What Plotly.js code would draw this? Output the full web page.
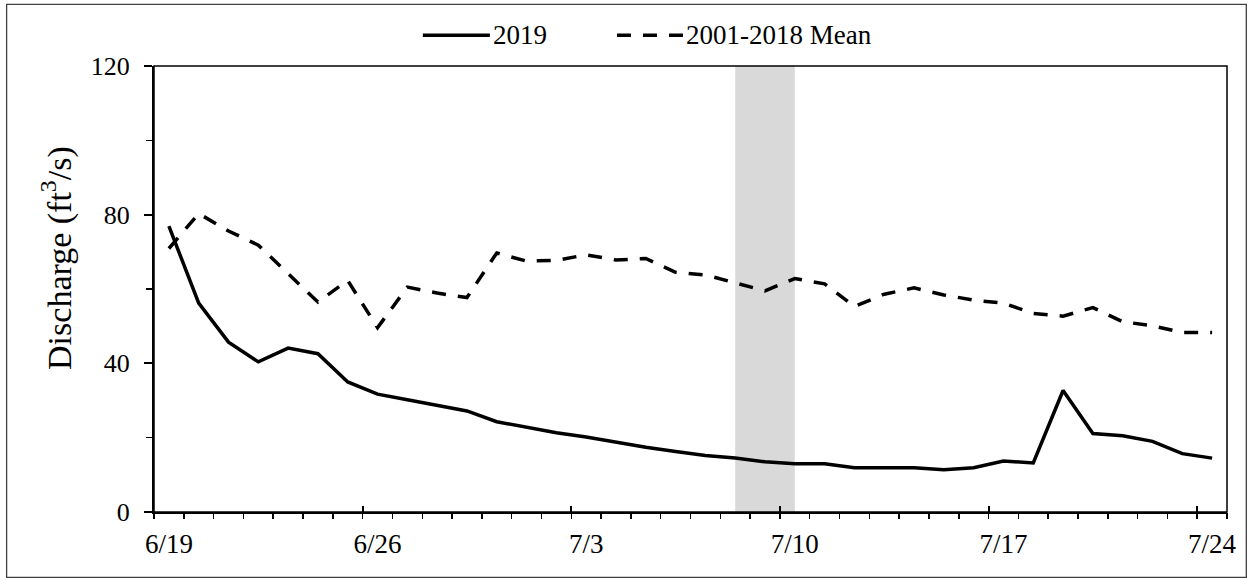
<!DOCTYPE html>
<html>
<head>
<meta charset="utf-8">
<script src="https://cdn.plot.ly/plotly-3.0.1.min.js"></script>
<style>
  html, body { margin: 0; padding: 0; background: #ffffff; }
  #chart { width: 1253px; height: 580px; }
</style>
</head>
<body>
<div id="chart"></div>
<script>
// ---- Data ----
const dates = ['6/19','6/20','6/21','6/22','6/23','6/24','6/25','6/26','6/27','6/28','6/29','6/30',
               '7/1','7/2','7/3','7/4','7/5','7/6','7/7','7/8','7/9','7/10','7/11','7/12',
               '7/13','7/14','7/15','7/16','7/17','7/18','7/19','7/20','7/21','7/22','7/23','7/24'];

const discharge2019 = [76.9, 56.2, 45.7, 40.4, 44.1, 42.6, 35.0, 31.7, 30.2, 28.7, 27.2, 24.3,
                       22.7, 21.3, 20.2, 18.7, 17.4, 16.3, 15.2, 14.5, 13.5, 13.0, 13.0, 11.9,
                       11.9, 11.9, 11.4, 11.9, 13.7, 13.2, 32.7, 21.1, 20.5, 19.0, 15.7, 14.5];

const dischargeMean = [70.9, 80.3, 75.6, 71.8, 64.1, 56.5, 62.3, 49.6, 60.5, 58.9, 57.7, 69.7,
                       67.5, 67.7, 69.2, 67.8, 68.2, 64.5, 63.8, 61.6, 59.5, 62.8, 61.4, 55.3,
                       58.6, 60.3, 58.4, 57.0, 56.2, 53.4, 52.7, 55.0, 51.2, 50.1, 48.3, 48.3];

const tickLabels = ['6/19','6/26','7/3','7/10','7/17','7/24'];
const yTicks = [0, 40, 80, 120];
const shadeStart = '7/8';
const shadeEnd = '7/10';

const seriesNames = ['2019', '2001-2018 Mean'];
const seriesDash = ['solid', '14px,12px'];

// ---- Build positions on a day-index scale (points centred in each day) ----
const xPos = dates.map((d, i) => i + 0.5);
const labelPos = tickLabels.map(t => dates.indexOf(t) + 0.5);
const majorBounds = tickLabels.map(t => dates.indexOf(t));
const xRange = [0, dates.length];

const FONT = '"Liberation Serif", "Times New Roman", serif';
const LW = 3.5;

const traces = [
  { x: xPos, y: discharge2019, name: seriesNames[0], type: 'scatter', mode: 'lines',
    line: { color: '#000000', width: LW, dash: seriesDash[0] }, hoverinfo: 'skip', showlegend: false },
  { x: xPos, y: dischargeMean, name: seriesNames[1], type: 'scatter', mode: 'lines',
    line: { color: '#000000', width: LW, dash: seriesDash[1] }, hoverinfo: 'skip', showlegend: false },
  // invisible helpers so the overlay axes (labels / minor ticks) are drawn
  { x: xPos, y: dischargeMean, xaxis: 'x2', type: 'scatter', mode: 'lines',
    line: { width: 0 }, opacity: 0, showlegend: false, hoverinfo: 'skip' },
  { x: xPos, y: dischargeMean, xaxis: 'x3', type: 'scatter', mode: 'lines',
    line: { width: 0 }, opacity: 0, showlegend: false, hoverinfo: 'skip' }
];

// plot area pixel geometry
const L = 154.3, R = 26.3, T = 65.7, B = 68.3;
const W = 1253 - L - R, H = 580 - T - B;
const px = v => (v - L) / W;
const py = v => (580 - B - v) / H;

// legend (drawn as a key above the plot, like the original)
const legendY = 35;
const legendKeys = [
  { x0: 423, x1: 490, textX: 492 },
  { x0: 617, x1: 684, textX: 685 }
];
const legendShapes = legendKeys.map((k, i) => ({
  type: 'line', xref: 'paper', yref: 'paper', layer: 'above',
  x0: px(k.x0), x1: px(k.x1), y0: py(legendY), y1: py(legendY),
  line: { color: '#000000', width: LW, dash: seriesDash[i] }
}));
const legendTexts = legendKeys.map((k, i) => ({
  xref: 'paper', yref: 'paper', x: px(k.textX), y: py(legendY), xanchor: 'left', yanchor: 'middle',
  text: seriesNames[i], showarrow: false, borderpad: 0,
  font: { family: FONT, size: 27, color: '#000000' }
}));

const layout = {
  width: 1253, height: 580,
  margin: { l: L, r: R, t: T, b: B, pad: 0 },
  paper_bgcolor: '#ffffff', plot_bgcolor: '#ffffff',
  font: { family: FONT, color: '#000000', size: 25 },
  showlegend: false,
  xaxis: {
    range: xRange, tickmode: 'array', tickvals: majorBounds, ticks: 'inside',
    ticklen: 6, tickwidth: 2, tickcolor: '#000000', showticklabels: false,
    showline: true, linewidth: 2, linecolor: '#000000',
    showgrid: false, zeroline: false, fixedrange: true
  },
  xaxis3: {
    overlaying: 'x', anchor: 'y', side: 'bottom', range: xRange,
    tickmode: 'linear', tick0: 0, dtick: 1, ticks: 'outside', ticklen: 6, tickwidth: 1.5,
    tickcolor: '#000000', showticklabels: false, showline: false,
    showgrid: false, zeroline: false, fixedrange: true
  },
  xaxis2: {
    overlaying: 'x', anchor: 'y', side: 'bottom', range: xRange,
    tickmode: 'array', tickvals: labelPos, ticktext: tickLabels, ticks: '',
    ticklabelstandoff: 13, tickfont: { family: FONT, size: 27, color: '#000000' },
    showline: false, showgrid: false, zeroline: false, fixedrange: true
  },
  yaxis: {
    range: [0, 120], tickmode: 'array', tickvals: yTicks, ticks: 'outside',
    ticklen: 8, tickwidth: 2, tickcolor: '#000000',
    minor: { tickmode: 'linear', tick0: 0, dtick: 20, ticks: 'outside', ticklen: 6,
             tickwidth: 1.5, tickcolor: '#000000' },
    showline: true, linewidth: 2, linecolor: '#000000',
    ticklabelstandoff: 9, tickfont: { family: FONT, size: 26, color: '#000000' },
    showgrid: false, zeroline: false, fixedrange: true
  },
  shapes: [
    { type: 'rect', layer: 'below', xref: 'x', yref: 'y',
      x0: dates.indexOf(shadeStart) + 0.5, x1: dates.indexOf(shadeEnd) + 0.5, y0: 0, y1: 120,
      fillcolor: '#d9d9d9', line: { width: 0 } },
    { type: 'rect', layer: 'above', xref: 'paper', yref: 'paper',
      x0: 0, x1: 1, y0: 0, y1: 1, line: { color: '#000000', width: 1.5 } },
    { type: 'rect', layer: 'above', xref: 'paper', yref: 'paper',
      x0: px(7), x1: px(1246), y0: py(577), y1: py(4),
      line: { color: '#404040', width: 1.3 } }
  ].concat(legendShapes),
  annotations: [
    { xref: 'paper', yref: 'paper', x: px(57), y: py(258), xanchor: 'center', yanchor: 'middle',
      text: 'Discharge (ft<sup>3</sup>/s)', textangle: -90, showarrow: false,
      font: { family: FONT, size: 34, color: '#000000' } }
  ].concat(legendTexts)
};

Plotly.newPlot('chart', traces, layout, { staticPlot: true, displayModeBar: false });
</script>
</body>
</html>
